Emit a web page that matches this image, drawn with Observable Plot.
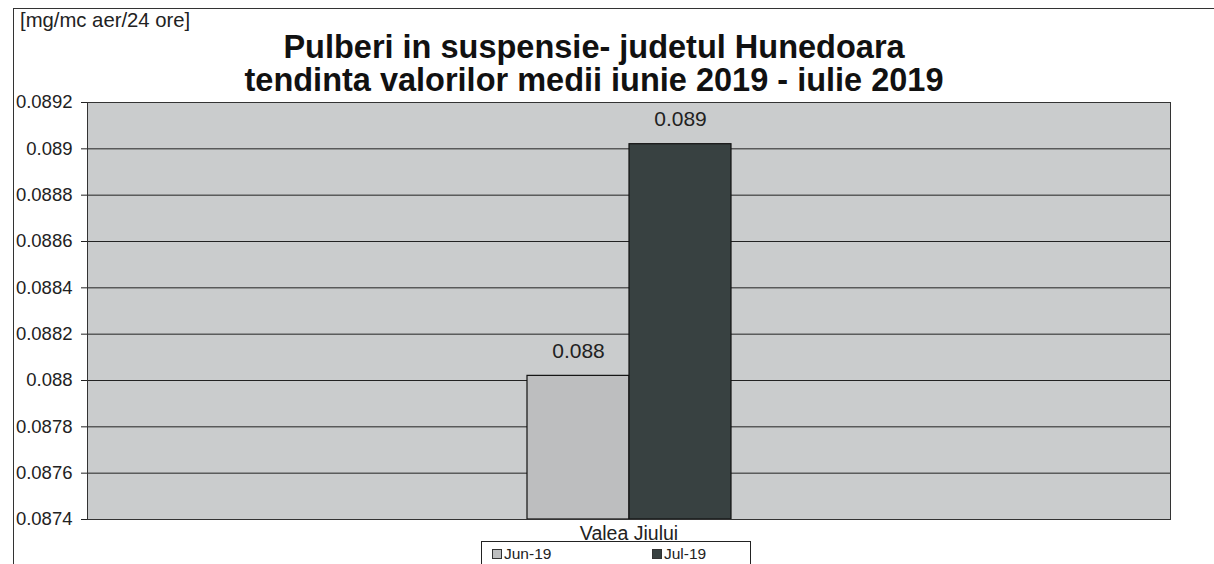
<!DOCTYPE html>
<html>
<head>
<meta charset="utf-8">
<script src="https://cdn.jsdelivr.net/npm/d3@7"></script>
<script src="https://cdn.jsdelivr.net/npm/@observablehq/plot@0.6"></script>
<style>
  html, body { margin: 0; padding: 0; background: #fff; }
  #wrap { position: relative; width: 1214px; height: 564px; overflow: hidden; font-family: "Liberation Sans", Arial, sans-serif; }
  #border { position: absolute; left: 13px; top: 8px; width: 1300px; height: 700px; border-top: 1.5px solid #333; border-left: 1.5px solid #333; }
  #unit { position: absolute; left: 20px; top: 9px; font-size: 20.3px; color: #222; }
  #title { position: absolute; left: 194px; width: 800px; top: 31px; text-align: center; font-weight: bold; font-size: 32.5px; line-height: 33px; color: #111; }
  #chart { position: absolute; left: 0; top: 0; }
  #legend { position: absolute; left: 481px; top: 541px; width: 268px; height: 30px; border: 1px solid #222; background: #fff; font-size: 15.5px; color: #222; }
  .item { position: absolute; top: 3px; display: flex; align-items: center; }
  .sw { width: 8px; height: 8px; border: 1px solid #333; margin-right: 2px; }
</style>
</head>
<body>
<div id="wrap">
  <div id="border"></div>
  <div id="chart"></div>
  <div id="unit">[mg/mc aer/24 ore]</div>
  <div id="title">Pulberi in suspensie- judetul Hunedoara<br>tendinta valorilor medii iunie 2019 - iulie 2019</div>
  <div id="legend"></div>
</div>
<script>
const category = "Valea Jiului";
const series = ["Jun-19", "Jul-19"];
const values = [0.08802, 0.08902];
const valueLabels = ["0.088", "0.089"];
const colors = ["#bdbebf", "#384141"];
const yTicks = [0.0874, 0.0876, 0.0878, 0.088, 0.0882, 0.0884, 0.0886, 0.0888, 0.089, 0.0892];
const yTickLabels = ["0.0874", "0.0876", "0.0878", "0.088", "0.0882", "0.0884", "0.0886", "0.0888", "0.089", "0.0892"];

const data = series.map((s, i) => ({cat: category, s, v: values[i], label: valueLabels[i]}));
const yMin = yTicks[0], yMax = yTicks[yTicks.length - 1];

const chart = Plot.plot({
  width: 1214,
  height: 564,
  marginLeft: 87,
  marginRight: 44,
  marginTop: 102,
  marginBottom: 45,
  style: {fontFamily: "'Liberation Sans', Arial, sans-serif", fontSize: "18.5px", color: "#222", background: "transparent"},
  fx: {domain: [category], padding: 0, label: null, axis: null},
  x: {domain: series, paddingInner: 0, paddingOuter: 4.28, axis: null},
  y: {domain: [yMin, yMax], label: null, axis: null},
  color: {domain: series, range: colors},
  marks: [
    Plot.frame({fill: "#cacccd"}),
    Plot.ruleY(yTicks, {stroke: "#222", strokeWidth: 1}),
    Plot.barY(data, {fx: "cat", x: "s", y1: () => yMin, y2: "v", fill: "s", stroke: "#111", strokeWidth: 1.2}),
    Plot.text(data, {fx: "cat", x: "s", y: "v", text: "label", dy: -25, fontSize: 21, fill: "#222"}),
    Plot.frame({stroke: "#333", strokeWidth: 1}),
    Plot.axisY({ticks: yTicks, tickFormat: (d) => yTickLabels[yTicks.indexOf(d)], tickSize: 6, tickPadding: 9, label: null, fontSize: 18.5}),
    Plot.axisFx({anchor: "bottom", label: null, tickSize: 0, tickPadding: 7, fontSize: 19.5})
  ]
});
document.getElementById("chart").appendChild(chart);

const legend = document.getElementById("legend");
const legendLeft = [10, 170];
series.forEach((s, i) => {
  const item = document.createElement("div");
  item.className = "item";
  item.style.left = legendLeft[i] + "px";
  const sw = document.createElement("div");
  sw.className = "sw";
  sw.style.background = colors[i];
  const t = document.createElement("span");
  t.textContent = s;
  item.appendChild(sw);
  item.appendChild(t);
  legend.appendChild(item);
});
</script>
</body>
</html>
